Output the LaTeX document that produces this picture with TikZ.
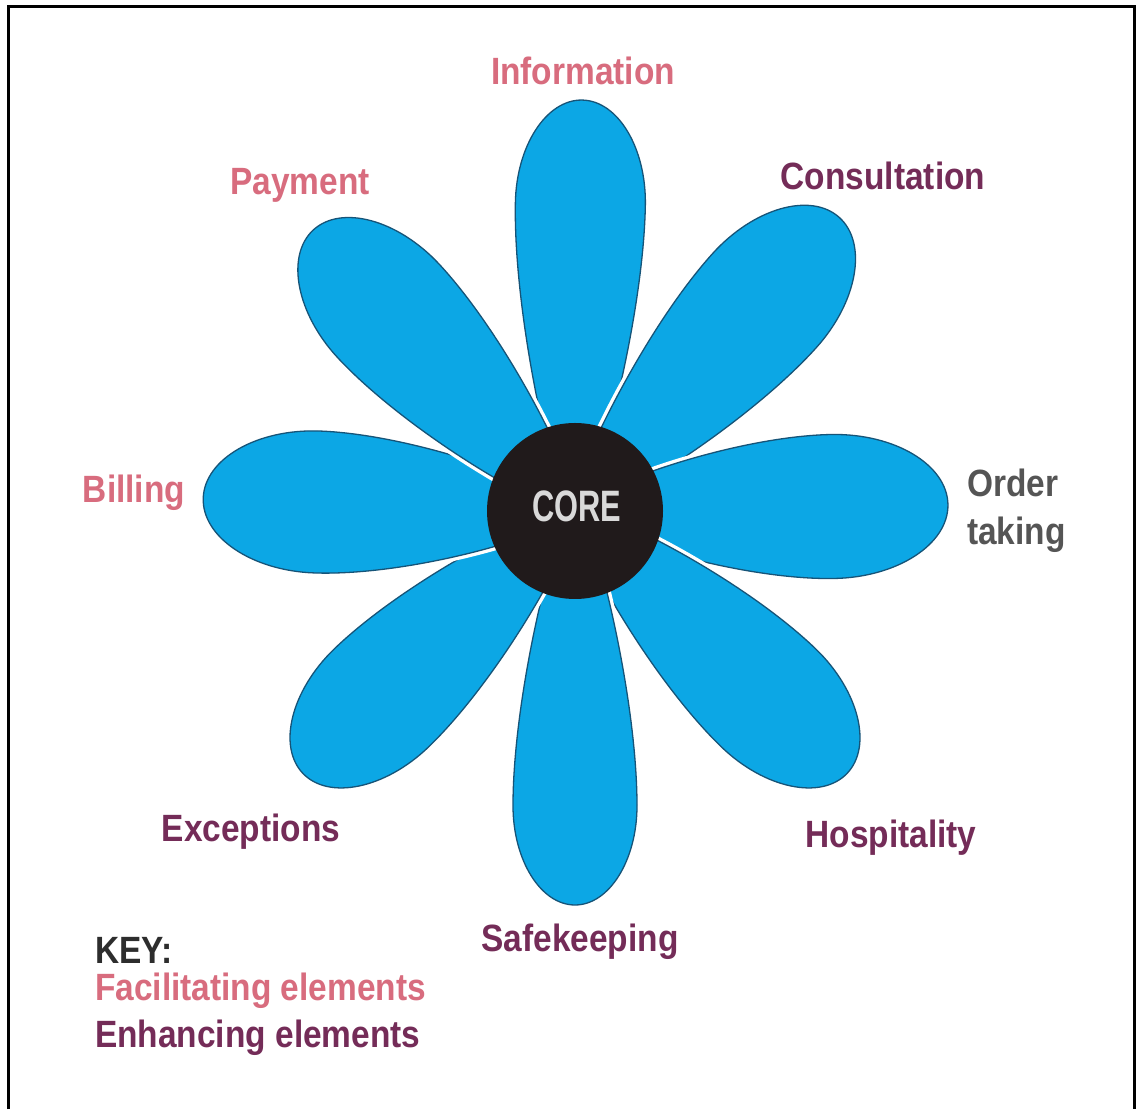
\documentclass[tikz,border=0pt]{standalone}
\usepackage{fontspec}
\setmainfont{Liberation Sans}[FakeStretch=0.88]
\newfontfamily\corefont{Liberation Sans}[FakeStretch=0.7]
\definecolor{petalfill}{RGB}{12,167,229}
\definecolor{petaledge}{RGB}{22,84,120}
\definecolor{corefill}{RGB}{32,26,27}
\definecolor{facil}{RGB}{216,108,126}
\definecolor{enhan}{RGB}{116,44,88}
\definecolor{ordergray}{RGB}{85,85,85}
\definecolor{keygray}{RGB}{45,45,45}
\tikzset{
  lbl/.style={inner sep=0pt, font=\fontsize{38}{44}\selectfont\bfseries},
  facilitating/.style={lbl, text=facil},
  enhancing/.style={lbl, text=enhan},
}
\newcommand\petal[3]{% angle, length, halfwidth
  \begin{scope}[shift={(575,598)}, rotate=#1]
    \pgfmathsetmacro\pL{#2}\pgfmathsetmacro\pW{#3}%
    \pgfmathsetmacro\pR{#2-1.6*#3}%
    \pgfmathsetmacro\pD{1.6*#3}%
    \path[fill=white, draw=white, line width=8pt]
      (40,{0.34*\pW}) .. controls ({0.4*\pR},{0.7*\pW}) and ({0.75*\pR},\pW) .. (\pR,\pW)
      .. controls ({\pR+0.55*\pD},\pW) and (\pL,{0.55*\pW}) .. (\pL,0)
      .. controls (\pL,{-0.55*\pW}) and ({\pR+0.55*\pD},-\pW) .. (\pR,-\pW)
      .. controls ({0.75*\pR},-\pW) and ({0.4*\pR},{-0.7*\pW}) .. (40,{-0.34*\pW}) -- cycle;
    \path[fill=petalfill, draw=petaledge, line width=1.3pt]
      (40,{0.34*\pW}) .. controls ({0.4*\pR},{0.7*\pW}) and ({0.75*\pR},\pW) .. (\pR,\pW)
      .. controls ({\pR+0.55*\pD},\pW) and (\pL,{0.55*\pW}) .. (\pL,0)
      .. controls (\pL,{-0.55*\pW}) and ({\pR+0.55*\pD},-\pW) .. (\pR,-\pW)
      .. controls ({0.75*\pR},-\pW) and ({0.4*\pR},{-0.7*\pW}) .. (40,{-0.34*\pW}) -- cycle;
  \end{scope}}
\begin{document}
\begin{tikzpicture}[x=1pt,y=1pt]
\useasboundingbox (0,0) rectangle (1141,1109);
\fill[white] (0,0) rectangle (1141,1109);
% frame (open at the bottom)
\draw[black, line width=3pt] (8,0) -- (8,1102) -- (1134,1102) -- (1134,0);

% petals
\petal{89}{411}{65}
\petal{48}{395}{70}
\petal{1}{373}{72}
\petal{-44}{378}{68}
\petal{-90}{394}{62}
\petal{-136}{378}{68}
\petal{178}{372}{71}
\petal{133}{384}{69}

% core
\node[circle, fill=corefill, minimum size=176pt, inner sep=0pt] (core) at (575,598) {};
\node[inner sep=0pt, anchor=base, text=white!85!black, font=\corefont\fontsize{44}{50}\selectfont\bfseries] (coretext) at (577,587) {CORE};

% labels
\node[facilitating, anchor=base] (information) at (583,1024) {Information};
\node[facilitating, anchor=base] (payment) at (300,914) {Payment};
\node[enhancing, anchor=base] (consultation) at (883,919) {Consultation};
\node[facilitating, anchor=base] (billing) at (134,606) {Billing};
\node[lbl, text=ordergray, anchor=base west] (order) at (967,612) {Order};
\node[lbl, text=ordergray, anchor=base west] (taking) at (967,564) {taking};
\node[enhancing, anchor=base] (exceptions) at (251,267) {Exceptions};
\node[enhancing, anchor=base] (hospitality) at (891,261) {Hospitality};
\node[enhancing, anchor=base] (safekeeping) at (580,157) {Safekeeping};

% key
\node[lbl, text=keygray, anchor=base west] (key) at (95,145) {KEY:};
\node[facilitating, anchor=base west] (keyfac) at (95,108) {Facilitating elements};
\node[enhancing, anchor=base west] (keyenh) at (95,61) {Enhancing elements};
\end{tikzpicture}
\end{document}
